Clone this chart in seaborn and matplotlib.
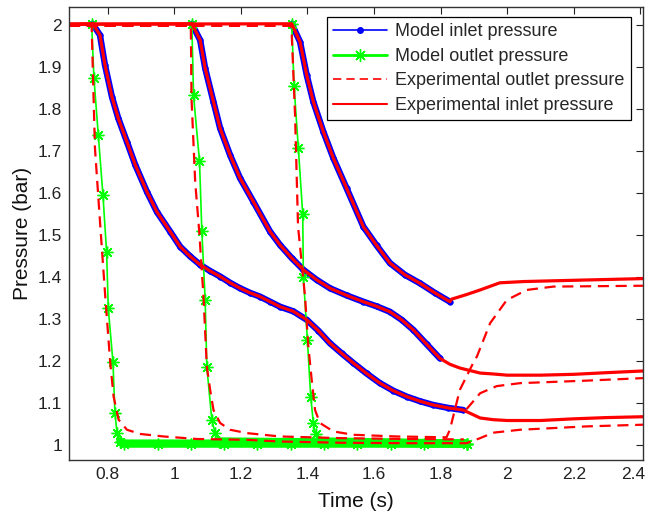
import numpy as np
import matplotlib
matplotlib.use("Agg")
import matplotlib.pyplot as plt
import matplotlib.transforms as mtransforms
import seaborn as sns
from matplotlib.lines import Line2D

# ---- data (time in s, pressure in bar) ----
# model inlet pressure, three runs
t_min_a = [0.755, 0.777, 0.792, 0.813, 0.832, 0.858, 0.883, 0.918, 0.948, 0.988, 1.018, 1.048,
           1.078, 1.108, 1.138, 1.168, 1.198, 1.228, 1.258, 1.288, 1.318, 1.358, 1.398, 1.433,
           1.468, 1.503, 1.538, 1.578, 1.618, 1.658, 1.698, 1.738, 1.778, 1.823, 1.868]
p_min_a = [2.003, 1.976, 1.905, 1.829, 1.778, 1.722, 1.667, 1.603, 1.555, 1.508, 1.472, 1.449,
           1.429, 1.414, 1.401, 1.386, 1.373, 1.362, 1.353, 1.341, 1.329, 1.318, 1.298, 1.272,
           1.242, 1.218, 1.195, 1.170, 1.147, 1.129, 1.115, 1.104, 1.095, 1.088, 1.083]
t_min_b = [1.053, 1.078, 1.093, 1.118, 1.138, 1.168, 1.198, 1.238, 1.288, 1.318, 1.353, 1.388,
           1.428, 1.468, 1.518, 1.568, 1.608, 1.648, 1.683, 1.718, 1.758, 1.798]
p_min_b = [2.003, 1.964, 1.897, 1.817, 1.754, 1.690, 1.635, 1.579, 1.508, 1.476, 1.445, 1.417,
           1.393, 1.373, 1.356, 1.341, 1.330, 1.317, 1.298, 1.274, 1.240, 1.206]
t_min_c = [1.353, 1.378, 1.398, 1.418, 1.448, 1.478, 1.518, 1.568, 1.608, 1.648, 1.693, 1.738,
           1.783, 1.828]
p_min_c = [2.003, 1.960, 1.881, 1.817, 1.746, 1.683, 1.611, 1.520, 1.475, 1.433, 1.405, 1.385,
           1.362, 1.341]

# model outlet pressure
t_mout_a = [0.752, 0.759, 0.772, 0.786, 0.797, 0.802, 0.816, 0.822, 0.828, 0.838, 0.850, 0.95,
            1.05, 1.15, 1.25, 1.35, 1.45, 1.55, 1.65, 1.75, 1.879]
p_mout_a = [2.003, 1.873, 1.738, 1.595, 1.459, 1.325, 1.198, 1.077, 1.029, 1.008, 1.003, 1.003,
            1.003, 1.003, 1.003, 1.003, 1.003, 1.003, 1.003, 1.003, 1.003]
t_mout_b = [1.053, 1.058, 1.076, 1.083, 1.093, 1.098, 1.113, 1.123, 1.135, 1.879]
p_mout_b = [2.003, 1.833, 1.676, 1.510, 1.345, 1.186, 1.060, 1.028, 1.008, 1.003]
t_mout_c = [1.353, 1.360, 1.373, 1.386, 1.388, 1.400, 1.410, 1.418, 1.425, 1.438, 1.879]
p_mout_c = [2.003, 1.855, 1.706, 1.550, 1.401, 1.250, 1.115, 1.052, 1.025, 1.008, 1.003]

# experimental outlet pressure (dashed)
t_eout_a = [0.684, 0.752, 0.762, 0.779, 0.793, 0.808, 0.818, 0.833, 0.858, 0.898, 0.968, 1.068,
            1.218, 1.318, 1.5, 1.7, 1.878, 1.919, 1.958, 2.039, 2.239, 2.408]
p_eout_a = [1.998, 1.998, 1.707, 1.510, 1.353, 1.195, 1.115, 1.060, 1.036, 1.026, 1.020, 1.014,
            1.012, 1.008, 1.005, 1.004, 1.004, 1.016, 1.029, 1.036, 1.044, 1.048]
t_eout_b = [0.684, 1.050, 1.052, 1.063, 1.075, 1.088, 1.098, 1.108, 1.118, 1.138, 1.168, 1.218,
            1.318, 1.5, 1.7, 1.87]
p_eout_b = [1.998, 1.998, 1.825, 1.627, 1.510, 1.353, 1.186, 1.131, 1.083, 1.052, 1.036, 1.028,
            1.020, 1.016, 1.014, 1.013]
t_eout_c = [0.684, 1.352, 1.363, 1.372, 1.393, 1.403, 1.413, 1.423, 1.438, 1.478, 1.538, 1.668,
            1.818, 1.828, 1.858, 1.898, 1.909, 1.949, 1.999, 2.059, 2.139, 2.408]
p_eout_c = [1.998, 1.998, 1.786, 1.520, 1.353, 1.234, 1.155, 1.083, 1.052, 1.032, 1.024, 1.020,
            1.018, 1.036, 1.131, 1.195, 1.210, 1.290, 1.345, 1.369, 1.377, 1.379]
t_eout_d = [1.878, 1.919, 1.969, 2.039, 2.239, 2.408]
p_eout_d = [1.085, 1.123, 1.140, 1.147, 1.153, 1.159]

# experimental inlet pressure (solid) = flat start + model descent + tail
t_ein_a = [0.684] + t_min_a + [1.919, 1.958, 2.0, 2.1, 2.2, 2.3, 2.408]
p_ein_a = [2.002] + p_min_a + [1.064, 1.060, 1.058, 1.058, 1.062, 1.065, 1.067]
t_ein_b = [0.684] + t_min_b + [1.828, 1.858, 1.919, 1.956, 2.0, 2.1, 2.2, 2.3, 2.408]
p_ein_b = [2.002] + p_min_b + [1.192, 1.183, 1.171, 1.169, 1.166, 1.166, 1.168, 1.172, 1.176]
t_ein_c = [0.684] + t_min_c + [1.833, 1.878, 1.919, 1.978, 2.05, 2.2, 2.408]
p_ein_c = [2.002] + p_min_c + [1.347, 1.358, 1.369, 1.386, 1.389, 1.392, 1.396]

x_ticks = [0.8, 1.0, 1.2, 1.4, 1.6, 1.8, 2.0, 2.2, 2.4]
x_tick_labels = ["0.8", "1", "1.2", "1.4", "1.6", "1.8", "2", "2.2", "2.4"]
y_ticks = [1.0, 1.1, 1.2, 1.3, 1.4, 1.5, 1.6, 1.7, 1.8, 1.9, 2.0]
y_tick_labels = ["1", "1.1", "1.2", "1.3", "1.4", "1.5", "1.6", "1.7", "1.8", "1.9", "2"]
legend_labels = ["Model inlet pressure", "Model outlet pressure",
                 "Experimental outlet pressure", "Experimental inlet pressure"]

# ---- style ----
sns.set_style("white")
plt.rcParams['font.family'] = ['Liberation Sans', 'DejaVu Sans']

BLUE, GREEN, RED = '#0000ff', '#00ff00', '#ff0000'
STAR = (8, 2, 0)
DASH = (0, (5, 3))

fig = plt.figure(figsize=(6.49, 5.17), dpi=100)
ax = fig.add_axes([0.1063, 0.1103, 0.8844, 0.8762])

common = dict(ax=ax, sort=False, estimator=None, legend=False)

# model inlet (dense dots -> thick band)
for t, p in [(t_min_a, p_min_a), (t_min_b, p_min_b), (t_min_c, p_min_c)]:
    sns.lineplot(x=t, y=p, color=BLUE, lw=4.6, marker='.', markersize=8,
                 mec=BLUE, mfc=BLUE, mew=0.5, **common)

# model outlet
for t, p in [(t_mout_a, p_mout_a), (t_mout_b, p_mout_b), (t_mout_c, p_mout_c)]:
    t = np.array(t)
    p = np.array(p)
    sns.lineplot(x=t, y=p, color=GREEN, lw=1.2, marker=STAR, markersize=8.5,
                 mec=GREEN, mew=1.0, **common)
    flat = p < 1.01
    sns.lineplot(x=t[flat], y=p[flat], color=GREEN, lw=6, **common)

# experimental outlet
for t, p in [(t_eout_a, p_eout_a), (t_eout_b, p_eout_b), (t_eout_c, p_eout_c), (t_eout_d, p_eout_d)]:
    sns.lineplot(x=t, y=p, color=RED, lw=1.6, linestyle=DASH, **common)

# experimental inlet
for t, p in [(t_ein_a, p_ein_a), (t_ein_b, p_ein_b), (t_ein_c, p_ein_c)]:
    sns.lineplot(x=t, y=p, color=RED, lw=2.3, **common)

ax.set_xlim(0.684, 2.408)
ax.set_ylim(0.964, 2.043)
ax.set_xticks(x_ticks)
ax.set_xticklabels(x_tick_labels)
ax.set_yticks(y_ticks)
ax.set_yticklabels(y_tick_labels)
ax.tick_params(direction='in', length=5, width=0.8, top=True, right=True,
               labelsize=12.5, colors='#222222', pad=5)
for s in ax.spines.values():
    s.set_color('#333333')
    s.set_linewidth(1.0)

# last x label sits on the figure edge; nudge it in so it stays whole
last = ax.get_xticklabels()[-1]
last.set_transform(last.get_transform() + mtransforms.ScaledTranslation(-7 / 100, 0, fig.dpi_scale_trans))

ax.set_xlabel("Time (s)", fontsize=15, labelpad=7, color='#111111')
ax.set_ylabel("Pressure (bar)", fontsize=15, labelpad=4, color='#111111')

handles = [
    Line2D([], [], color=BLUE, lw=1.2, marker='.', markersize=8),
    Line2D([], [], color=GREEN, lw=2.0, marker=STAR, markersize=9, mew=1.0),
    Line2D([], [], color=RED, lw=1.2, linestyle=DASH),
    Line2D([], [], color=RED, lw=1.5),
]
leg = ax.legend(handles, legend_labels, loc='upper right', bbox_to_anchor=(0.979, 0.978),
                borderaxespad=0, fontsize=13, handlelength=3.0, labelspacing=0.42,
                handletextpad=0.45, borderpad=0.35, fancybox=False, framealpha=1)
leg.get_frame().set_edgecolor('black')
leg.get_frame().set_linewidth(0.9)

fig.savefig("out.png", dpi=100)
